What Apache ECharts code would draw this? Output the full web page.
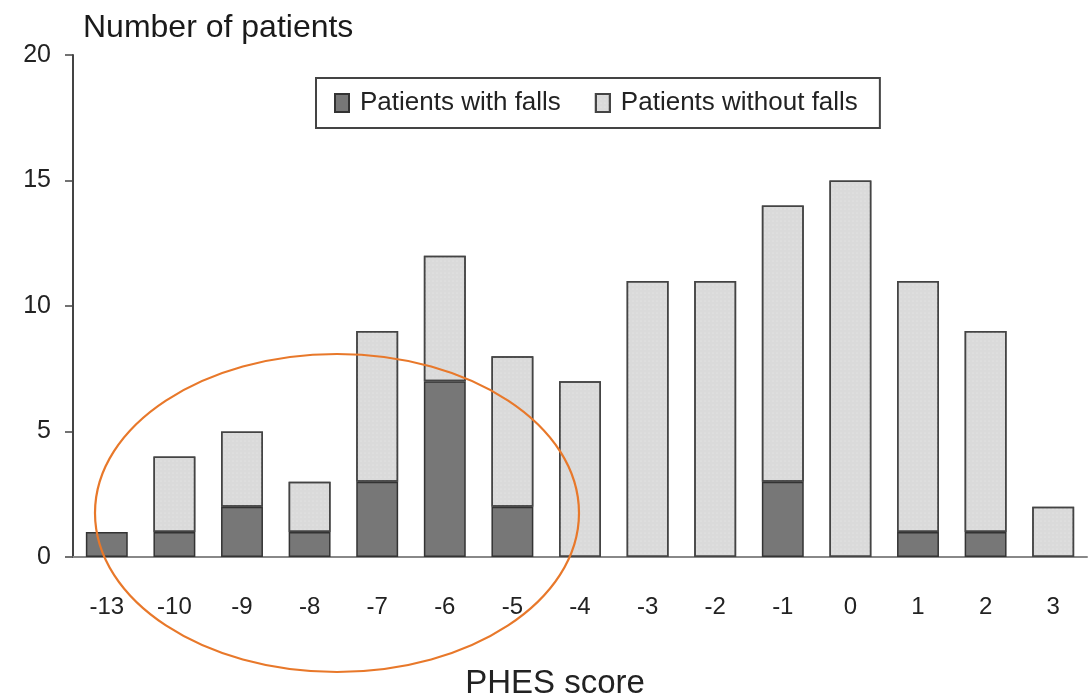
<!DOCTYPE html>
<html>
<head>
<meta charset="utf-8">
<script src="https://cdn.jsdelivr.net/npm/echarts@6/dist/echarts.min.js"></script>
<style>
html,body{margin:0;padding:0;background:#fff;}
#chart{width:1090px;height:694px;}
</style>
</head>
<body>
<div id="chart"></div>
<script>
const categories = ['-13','-10','-9','-8','-7','-6','-5','-4','-3','-2','-1','0','1','2','3'];
const withFalls = [1,1,2,1,3,7,2,0,0,0,3,0,1,1,0];
const withoutFalls = [0,3,3,2,6,5,6,7,11,11,11,15,10,8,2];
const yTicks = [0,5,10,15,20];

const FONT = '"Liberation Sans", Arial, sans-serif';
const nz = arr => arr.map(v => v === 0 ? null : v);
const chart = echarts.init(document.getElementById('chart'));
chart.setOption({
  animation: false,
  backgroundColor: '#fff',
  title: {
    text: 'Number of patients',
    left: 78, top: 7,
    textStyle: {fontFamily: FONT, fontSize: 32, fontWeight: 'normal', color: '#1a1a1a'}
  },
  legend: {
    left: 316, top: 78,
    orient: 'horizontal',
    padding: [12, 22, 12, 18],
    itemGap: 34,
    itemWidth: 14, itemHeight: 18,
    icon: 'rect',
    borderColor: '#444', borderWidth: 2,
    textStyle: {fontFamily: FONT, fontSize: 26, color: '#222', padding: [0, 0, 0, 6]},
    data: ['Patients with falls','Patients without falls']
  },
  grid: {left: 73, right: 3, top: 55, bottom: 137, outerBoundsMode: 'none', containLabel: false},
  xAxis: {
    type: 'category',
    data: categories,
    name: 'PHES score',
    nameLocation: 'middle',
    nameGap: 110,
    nameTextStyle: {fontFamily: FONT, fontSize: 33, color: '#222', padding: [0, 50, 0, 0]},
    axisLine: {lineStyle: {color: '#888', width: 2}},
    axisTick: {show: false},
    axisLabel: {fontFamily: FONT, fontSize: 24, color: '#222', margin: 38}
  },
  yAxis: {
    type: 'value',
    min: 0, max: 20, interval: 5,
    axisLine: {show: true, lineStyle: {color: '#444', width: 2}},
    axisTick: {show: true, length: 8, lineStyle: {color: '#444', width: 1.5}},
    splitLine: {show: false},
    axisLabel: {fontFamily: FONT, fontSize: 25, color: '#222', margin: 22,
      formatter: v => yTicks.includes(v) ? String(v) : ''}
  },
  series: [
    {
      name: 'Patients with falls', type: 'bar', stack: 'total',
      data: nz(withFalls), barWidth: '62%',
      itemStyle: {color: '#777777', borderColor: '#333', borderWidth: 1.5}
    },
    {
      name: 'Patients without falls', type: 'bar', stack: 'total',
      data: nz(withoutFalls), barWidth: '62%',
      itemStyle: {color: '#dadada', borderColor: '#444', borderWidth: 1.5,
        decal: {symbol: 'circle', symbolSize: 0.5, dashArrayX: [2, 2], dashArrayY: [2, 2], color: 'rgba(255,255,255,0.55)'}}
    }
  ],
  graphic: [
    {
      type: 'ellipse',
      shape: {cx: 337, cy: 513, rx: 242, ry: 159},
      style: {fill: 'none', stroke: '#e8782a', lineWidth: 2.2},
      z: 100
    }
  ]
});
</script>
</body>
</html>
